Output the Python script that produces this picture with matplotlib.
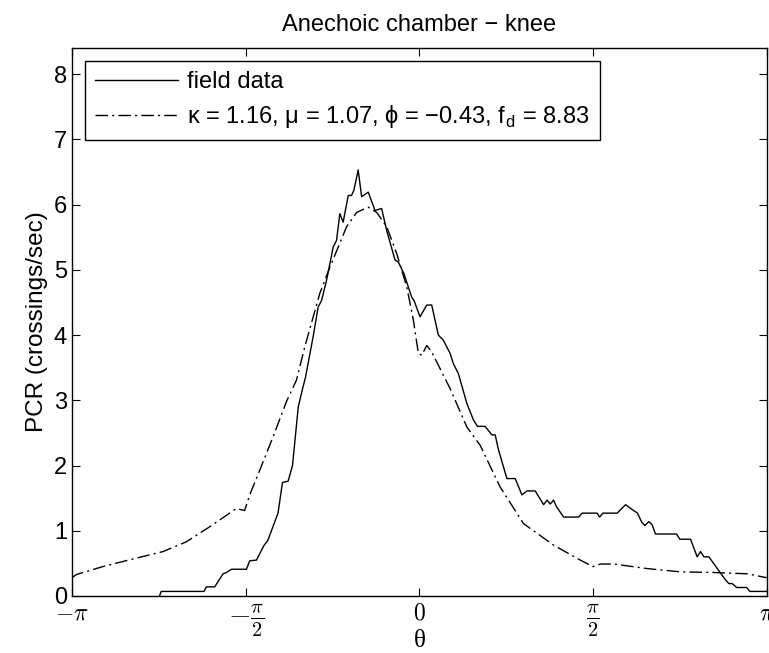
import numpy as np
import matplotlib
matplotlib.use('Agg')
import matplotlib.pyplot as plt

plt.rcParams['font.family'] = ['Liberation Sans', 'DejaVu Sans']
plt.rcParams['mathtext.fontset'] = 'cm'

# field data (theta in radians, PCR in crossings/sec)
field_theta = [-2.350, -2.335, -1.948, -1.925, -1.851, -1.775, -1.745, -1.697, -1.564, -1.534,
               -1.473, -1.407, -1.371, -1.278, -1.238, -1.187, -1.147, -1.095, -1.060, -1.030,
               -0.961, -0.915, -0.884, -0.839, -0.779, -0.749, -0.719, -0.689, -0.643, -0.613,
               -0.592, -0.553, -0.522, -0.462, -0.401, -0.341, -0.295, -0.220, -0.190, -0.139,
               -0.069, -0.048, 0.006, 0.067, 0.112, 0.172, 0.217, 0.278, 0.308, 0.353,
               0.430, 0.489, 0.526, 0.595, 0.656, 0.686, 0.716, 0.792, 0.867, 0.928,
               0.973, 1.048, 1.124, 1.155, 1.184, 1.214, 1.240, 1.305, 1.441, 1.472,
               1.608, 1.630, 1.660, 1.789, 1.866, 1.912, 1.973, 2.009, 2.039, 2.075,
               2.106, 2.136, 2.326, 2.356, 2.453, 2.513, 2.543, 2.574, 2.619, 2.770,
               2.800, 2.830, 2.870, 2.960, 2.990, 3.1416]
field_pcr = [0.0, 0.07, 0.07, 0.14, 0.14, 0.34, 0.36, 0.41, 0.41, 0.54,
             0.55, 0.77, 0.85, 1.27, 1.74, 1.76, 2.0, 2.9, 3.15, 3.35,
             3.97, 4.43, 4.53, 4.84, 5.35, 5.45, 5.86, 5.73, 6.14, 6.14,
             6.22, 6.53, 6.12, 6.19, 5.91, 5.94, 5.60, 5.15, 5.12, 4.94,
             4.58, 4.53, 4.28, 4.46, 4.46, 4.00, 3.92, 3.72, 3.56, 3.41,
             2.95, 2.70, 2.60, 2.60, 2.47, 2.47, 2.24, 1.80, 1.80, 1.55,
             1.61, 1.61, 1.40, 1.47, 1.41, 1.47, 1.37, 1.21, 1.21, 1.27,
             1.27, 1.21, 1.27, 1.27, 1.40, 1.34, 1.27, 1.14, 1.08, 1.14,
             1.09, 0.95, 0.95, 0.87, 0.87, 0.60, 0.68, 0.60, 0.60, 0.245,
             0.19, 0.19, 0.13, 0.13, 0.07, 0.07]

# fitted model
fit_theta = [-3.1416, -3.10, -2.864, -2.561, -2.320, -2.108, -1.897, -1.655, -1.580, -1.534,
             -1.443, -1.323, -1.202, -1.111, -1.036, -0.900, -0.809, -0.658, -0.567, -0.462,
             -0.386, -0.295, -0.205, -0.114, -0.054, -0.009, 0.022, 0.067, 0.112, 0.278,
             0.430, 0.550, 0.731, 0.942, 1.214, 1.456, 1.571, 1.638, 1.758, 2.061,
             2.362, 2.664, 2.967, 3.1416]
fit_pcr = [0.28, 0.33, 0.45, 0.58, 0.68, 0.83, 1.06, 1.34, 1.31, 1.55,
           1.93, 2.44, 2.98, 3.31, 3.82, 4.64, 5.04, 5.66, 5.88, 5.96,
           5.88, 5.66, 5.25, 4.74, 4.23, 3.72, 3.69, 3.84, 3.74, 3.18,
           2.59, 2.31, 1.67, 1.11, 0.78, 0.55, 0.45, 0.49, 0.49, 0.42,
           0.37, 0.36, 0.34, 0.28]

xtick_vals = [-np.pi, -np.pi / 2, 0, np.pi / 2, np.pi]
xtick_labels = [r'$-\pi$', r'$-\frac{\pi}{2}$', r'$0$', r'$\frac{\pi}{2}$', r'$\pi$']
xtick_sizes = [17, 21, 17, 21, 17]

fig = plt.figure(figsize=(7.69, 6.53), dpi=100)
ax = fig.add_axes([0.0936, 0.0873, 0.9034, 0.8392])

ax.plot(field_theta, field_pcr, color='black', lw=1.0, label='field data')
ax.plot(fit_theta, fit_pcr, color='black', lw=1.0, dashes=(9, 3, 1.5, 3),
        label=r'κ = 1.16, μ = 1.07, ϕ = −0.43, f$_\mathregular{d}$ = 8.83')

ax.set_xlim(-np.pi, np.pi)
ax.set_ylim(0, 8.4)
ax.set_xticks(xtick_vals)
ax.set_xticklabels(xtick_labels)
for lbl, sz in zip(ax.get_xticklabels(), xtick_sizes):
    lbl.set_fontsize(sz)
ax.set_yticks(range(0, 9))
ax.tick_params(axis='y', labelsize=17)
ax.tick_params(axis='x', pad=5)
ax.tick_params(direction='in', top=True, right=True, length=6, width=0.8)
for s in ax.spines.values():
    s.set_linewidth(1.0)

ax.set_xlabel('θ', fontsize=18, family='Liberation Serif')
ax.xaxis.set_label_coords(0.5, -0.062)
ax.set_ylabel('PCR (crossings/sec)', fontsize=17.5)
ax.set_title('Anechoic chamber − knee', fontsize=17, pad=12)

leg = ax.legend(loc='upper left', fontsize=17, handlelength=3.5, handletextpad=0.4,
                borderaxespad=0.55, labelspacing=0.42, borderpad=0.42,
                fancybox=False, framealpha=1)
leg.get_frame().set_edgecolor('black')
leg.get_frame().set_linewidth(1.0)

fig.savefig('out.png', dpi=100)
